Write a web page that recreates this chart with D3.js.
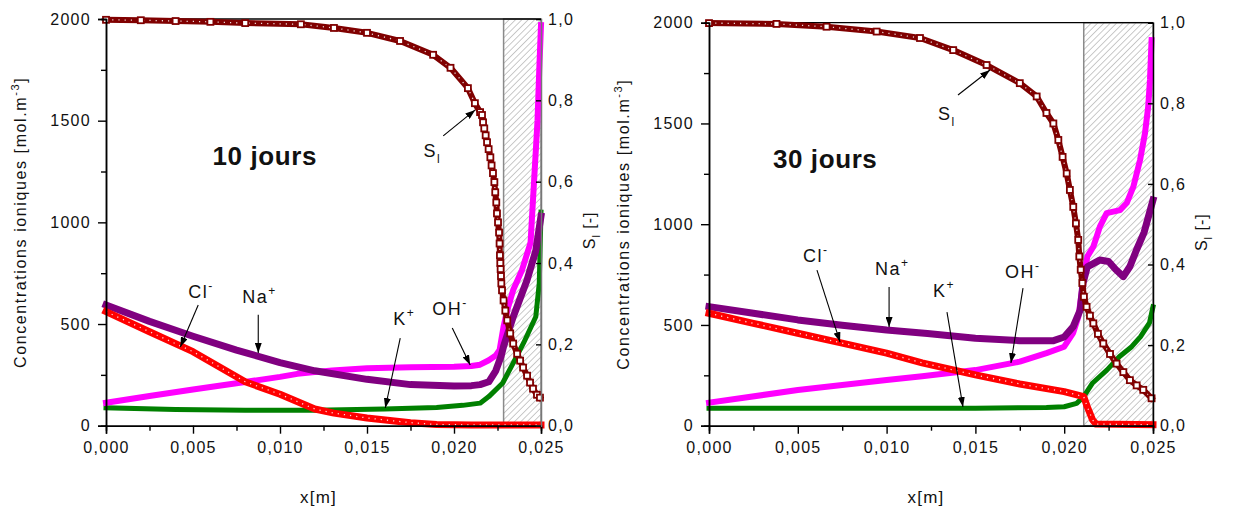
<!DOCTYPE html>
<html><head><meta charset="utf-8">
<script src="https://cdn.jsdelivr.net/npm/d3@7"></script>
<style>
body{margin:0;background:#fff;}
svg text{font-family:"Liberation Sans",Arial,sans-serif;fill:#111;}
</style></head><body>
<svg id="c" width="1235" height="516"></svg>
<script>
// ---------- tick values ----------
const xTicks = [0, 0.005, 0.010, 0.015, 0.020, 0.025];
const xMinor = [0.0025, 0.0075, 0.0125, 0.0175, 0.0225];
const cTicks = [0, 500, 1000, 1500, 2000];
const cMinor = [250, 750, 1250, 1750];
const sTicks = [0, 0.2, 0.4, 0.6, 0.8, 1.0];

// ---------- 10 jours : [x (m), value] ----------
const sl10 = [[0,0.998],[0.002,0.997],[0.004,0.995],[0.006,0.993],[0.008,0.99],[0.0112,0.987],[0.0131,0.978],[0.015,0.966],[0.0169,0.946],[0.0188,0.912],[0.0198,0.88],[0.0208,0.83],[0.0212,0.793],[0.0215,0.771],
  [0.02161,0.764],[0.02167,0.746],[0.02174,0.731],[0.02182,0.714],[0.0219,0.697],[0.02199,0.68],[0.02209,0.66],[0.02216,0.64],[0.02224,0.621],[0.02232,0.599],[0.02237,0.574],[0.02243,0.549],[0.02247,0.522],[0.02253,0.5],[0.02259,0.475],[0.02262,0.448],
  [0.02264,0.419],[0.02266,0.40],[0.02268,0.385],[0.0227,0.368],[0.02272,0.35],[0.02276,0.333],[0.02285,0.308],[0.02295,0.283],[0.02306,0.259],[0.02323,0.227],[0.0234,0.202],[0.02363,0.177],[0.0238,0.16],[0.02397,0.143],[0.0242,0.123],[0.02437,0.106],[0.02454,0.091],[0.02477,0.076],[0.02494,0.069]];
const cl10 = [[0,561],[0.0025,462],[0.005,364],[0.008,216],[0.010,155],[0.012,82],[0.0131,62],[0.015,38],[0.0175,15],[0.019,6],[0.021,4],[0.025,4]];
const na10 = [[0,594],[0.0025,513],[0.005,440],[0.0075,372],[0.010,310],[0.012,270],[0.015,228],[0.0175,202],[0.020,195],[0.021,197],[0.0215,202],[0.022,216],[0.0224,270],[0.0227,340],[0.02285,390],[0.0234,535],[0.0242,717],[0.0247,860],[0.025,1030]];
const oh10 = [[0,113],[0.0025,146],[0.005,178],[0.0075,209],[0.010,240],[0.011,255],[0.013,272],[0.015,282],[0.0175,287],[0.020,290],[0.021,294],[0.0215,300],[0.022,322],[0.0224,345],[0.02262,372],[0.02285,488],[0.02312,586],[0.0234,667],[0.02391,766],[0.0244,900],[0.0246,1200],[0.0248,1500],[0.0249,1750],[0.025,1970]];
const k10 = [[0,88],[0.004,80],[0.008,76],[0.012,76],[0.016,82],[0.019,90],[0.0205,100],[0.0215,111],[0.022,143],[0.0228,210],[0.0234,308],[0.024,407],[0.0247,536],[0.0249,700],[0.025,1050]];

// ---------- 30 jours ----------
const sl30 = [[0,0.999],[0.0038,0.997],[0.00662,0.99],[0.00944,0.978],[0.01188,0.962],[0.01375,0.932],[0.01563,0.895],[0.0175,0.85],[0.01845,0.817],[0.019,0.776],
  [0.01939,0.75],[0.01967,0.709],[0.01991,0.667],[0.02014,0.626],[0.02032,0.585],[0.02051,0.543],[0.02066,0.502],[0.02079,0.461],[0.02085,0.42],[0.02093,0.387],[0.02102,0.354],[0.02111,0.32],[0.02126,0.295],[0.02145,0.273],[0.02164,0.254],[0.0219,0.228],[0.0222,0.204],[0.02258,0.178],[0.02295,0.154],[0.02333,0.133],[0.0237,0.113],[0.02408,0.1],[0.02445,0.089],[0.02492,0.068]];
const cl30 = [[0,558],[0.0025,508],[0.005,459],[0.0075,410],[0.010,360],[0.012,312],[0.015,252],[0.0175,207],[0.020,169],[0.0211,144],[0.0213,94],[0.0216,28],[0.0218,8],[0.025,5]];
const na30 = [[0,591],[0.0025,558],[0.005,525],[0.0075,499],[0.010,475],[0.0123,458],[0.015,434],[0.0175,422],[0.0194,422],[0.020,440],[0.0205,491],[0.0209,574],[0.02106,708],[0.0213,788],[0.022,822],[0.0225,815],[0.0229,775],[0.02333,740],[0.0237,790],[0.02407,872],[0.0245,960],[0.025,1120]];
const oh30 = [[0,114],[0.005,177],[0.010,227],[0.012,245],[0.015,276],[0.0175,318],[0.019,360],[0.020,392],[0.0205,460],[0.0208,541],[0.02106,708],[0.0213,839],[0.02164,888],[0.02201,988],[0.02239,1055],[0.02314,1070],[0.02352,1105],[0.02389,1185],[0.02427,1318],[0.02455,1452],[0.02473,1583],[0.02483,1716],[0.02492,1914]];
const k30 = [[0,86],[0.005,86],[0.010,86],[0.015,87],[0.019,90],[0.020,94],[0.0207,111],[0.0211,144],[0.0216,212],[0.0224,276],[0.0231,342],[0.0238,392],[0.0243,442],[0.0248,510],[0.025,590]];

// ---------- shaded zone (x start) ----------
const zone10 = 0.02285, zone30 = 0.0211;

// ---------- annotations: label position and arrow (data coords: x, concentration) ----------
const ann10 = [
  {t:"S", sub:"l", at:[0.01824,1322], from:[0.01938,1425], to:[0.02122,1553]},
  {t:"Cl", sup:"-", at:[0.00473,628], from:[0.0053,594], to:[0.00427,387]},
  {t:"Na", sup:"+", at:[0.00783,602], from:[0.00875,545], to:[0.00875,358]},
  {t:"K", sup:"+", at:[0.01651,494], from:[0.01691,431], to:[0.01605,87]},
  {t:"OH", sup:"-", at:[0.01875,543], from:[0.0199,481], to:[0.02093,299]}
];
const ann30 = [
  {t:"S", sub:"l", at:[0.0129,1517], from:[0.01402,1641], to:[0.01582,1765]},
  {t:"Cl", sup:"-", at:[0.00529,811], from:[0.00608,772], to:[0.00738,415]},
  {t:"Na", sup:"+", at:[0.00935,747], from:[0.01014,688], to:[0.01014,490]},
  {t:"K", sup:"+", at:[0.01261,638], from:[0.0134,564], to:[0.0143,93]},
  {t:"OH", sup:"-", at:[0.01667,733], from:[0.01768,683], to:[0.017,311]}
];

const svg = d3.select("#c");
const defs = svg.append("defs");
const pat = defs.append("pattern").attr("id","hatch").attr("width",4.5).attr("height",4.5)
  .attr("patternUnits","userSpaceOnUse").attr("patternTransform","rotate(45)");
pat.append("line").attr("x1",0).attr("y1",-1).attr("x2",0).attr("y2",6).attr("stroke","#8a8a8a").attr("stroke-width",0.9);
defs.append("marker").attr("id","arr").attr("viewBox","0 0 10 10").attr("refX",10).attr("refY",5)
  .attr("markerUnits","userSpaceOnUse").attr("markerWidth",10).attr("markerHeight",7).attr("orient","auto")
  .attr("preserveAspectRatio","none")
  .append("path").attr("d","M0,0 L10,5 L0,10 z").attr("fill","#000");

const fmt = d => d3.format(".3f")(d).replace(".",",");
const fmtS = d => d3.format(".1f")(d).replace(".",",");
const fmtC = d3.format("d");

function panel(cfg){
  const x = d3.scaleLinear().domain([0,0.025]).range([cfg.x0,cfg.x1]);
  const y = d3.scaleLinear().domain([0,2000]).range([cfg.yb,cfg.yt]);
  const ys = d3.scaleLinear().domain([0,1]).range([cfg.yb,cfg.yt]);
  const g = svg.append("g");

  // hatched zone
  g.append("rect").attr("x",x(cfg.zone)).attr("y",cfg.yt).attr("width",x(0.025)-x(cfg.zone)).attr("height",cfg.yb-cfg.yt)
    .attr("fill","url(#hatch)").attr("stroke","#8a8a8a").attr("stroke-width",1.5);

  // top border
  g.append("line").attr("x1",cfg.x0).attr("x2",cfg.x1).attr("y1",cfg.yt).attr("y2",cfg.yt).attr("stroke","#000").attr("stroke-width",1.3);

  const line = (sc) => d3.line().x(d=>x(d[0])).y(d=>sc(d[1])).curve(d3.curveLinear);
  const series = [
    {d:cfg.k, c:"#008000", w:5, sc:y},
    {d:cfg.oh, c:"#ff00ff", w:6, sc:y},
    {d:cfg.na, c:"#800080", w:7, sc:y},
    {d:cfg.cl, c:"#ff0000", w:7, sc:y, dots:true},
    {d:cfg.sl, c:"#800000", w:6, sc:ys, sq:true, dots:true}
  ];
  series.forEach(s=>{
    g.append("path").attr("d",line(s.sc)(s.d)).attr("fill","none").attr("stroke",s.c)
      .attr("stroke-width",s.w).attr("stroke-linejoin","round").attr("stroke-linecap","square");
    if(s.dots){
      g.append("path").attr("d",line(s.sc)(s.d)).attr("fill","none").attr("stroke","#fff")
        .attr("stroke-width",1.3).attr("stroke-dasharray","1.2 5").attr("opacity",0.85);
    }
    if(s.sq){
      g.selectAll(null).data(s.d).enter().append("rect")
        .attr("x",d=>x(d[0])-3).attr("y",d=>s.sc(d[1])-3).attr("width",6).attr("height",6)
        .attr("fill","#fff").attr("stroke",s.c).attr("stroke-width",1.8);
    }
  });

  // axes
  const ax = ()=> g.append("g");
  const tickStyle = sel => {
    sel.selectAll("text").style("font-size","16px").style("letter-spacing","1.3px").attr("fill","#222");
    sel.selectAll("line").attr("stroke","#000").attr("stroke-width",1.4);
    sel.select(".domain").attr("stroke","#000").attr("stroke-width",1.5);
  };
  ax().attr("transform",`translate(${cfg.x0},0)`).call(d3.axisLeft(y).tickValues(cMinor).tickSize(5).tickFormat("")).call(tickStyle);
  ax().attr("transform",`translate(${cfg.x0},0)`).call(d3.axisLeft(y).tickValues(cTicks).tickSize(8).tickPadding(7).tickFormat(fmtC)).call(tickStyle);
  ax().attr("transform",`translate(0,${cfg.yb})`).call(d3.axisBottom(x).tickValues(xMinor).tickSize(5).tickFormat("")).call(tickStyle);
  ax().attr("transform",`translate(0,${cfg.yb})`).call(d3.axisBottom(x).tickValues(xTicks).tickSize(8).tickPadding(8).tickFormat(fmt)).call(tickStyle);
  ax().attr("transform",`translate(${cfg.x1},0)`).call(d3.axisRight(ys).tickValues(sTicks).tickSize(-5).tickPadding(7).tickFormat(fmtS)).call(tickStyle)
    .select(".domain").attr("stroke",cfg.rightCol);

  // axis titles
  const yt = g.append("text").attr("transform",`translate(${cfg.x0-80},${(cfg.yt+cfg.yb)/2}) rotate(-90)`)
    .attr("text-anchor","middle").style("font-size","16px").style("letter-spacing","1.6px");
  yt.append("tspan").text("Concentrations ioniques [mol.m");
  yt.append("tspan").attr("dy",-7).style("font-size","11px").text("-3");
  yt.append("tspan").attr("dy",7).text("]");

  const st = g.append("text").attr("transform",`translate(${cfg.x1+54},${(cfg.yt+cfg.yb)/2+8}) rotate(-90)`)
    .attr("text-anchor","middle").style("font-size","16px").style("letter-spacing","1px");
  st.append("tspan").text("S");
  st.append("tspan").attr("dy",5).style("font-size","11px").text("l");
  st.append("tspan").attr("dy",-5).text(" [-]");

  g.append("text").attr("x",(cfg.x0+cfg.x1)/2-5).attr("y",503).attr("text-anchor","middle")
    .style("font-size","17px").style("letter-spacing","1.2px").text("x[m]");

  // title
  g.append("text").attr("x",x(cfg.title.at[0])).attr("y",y(cfg.title.at[1]))
    .style("font-size","26px").style("font-weight","bold").style("letter-spacing","0.6px").text(cfg.title.t);

  // annotations
  cfg.ann.forEach(a=>{
    g.append("line").attr("x1",x(a.from[0])).attr("y1",y(a.from[1])).attr("x2",x(a.to[0])).attr("y2",y(a.to[1]))
      .attr("stroke","#000").attr("stroke-width",1.1).attr("marker-end","url(#arr)");
    const t = g.append("text").attr("x",x(a.at[0])).attr("y",y(a.at[1])).style("font-size","18px").style("letter-spacing","1.5px");
    t.append("tspan").text(a.t);
    if(a.sup) t.append("tspan").attr("dy",-8).style("font-size","12px").text(a.sup);
    if(a.sub) t.append("tspan").attr("dy",6).style("font-size","12px").text(a.sub);
  });
}

panel({x0:106, x1:541, yt:19, yb:425.7, zone:zone10, sl:sl10, cl:cl10, na:na10, oh:oh10, k:k10,
  title:{t:"10 jours", at:[0.00612,1282]}, ann:ann10, rightCol:"#777"});
panel({x0:709, x1:1153, yt:22.7, yb:425.7, zone:zone30, sl:sl30, cl:cl30, na:na30, oh:oh30, k:k30,
  title:{t:"30 jours", at:[0.0036,1278]}, ann:ann30, rightCol:"#000"});
</script>
</body></html>
